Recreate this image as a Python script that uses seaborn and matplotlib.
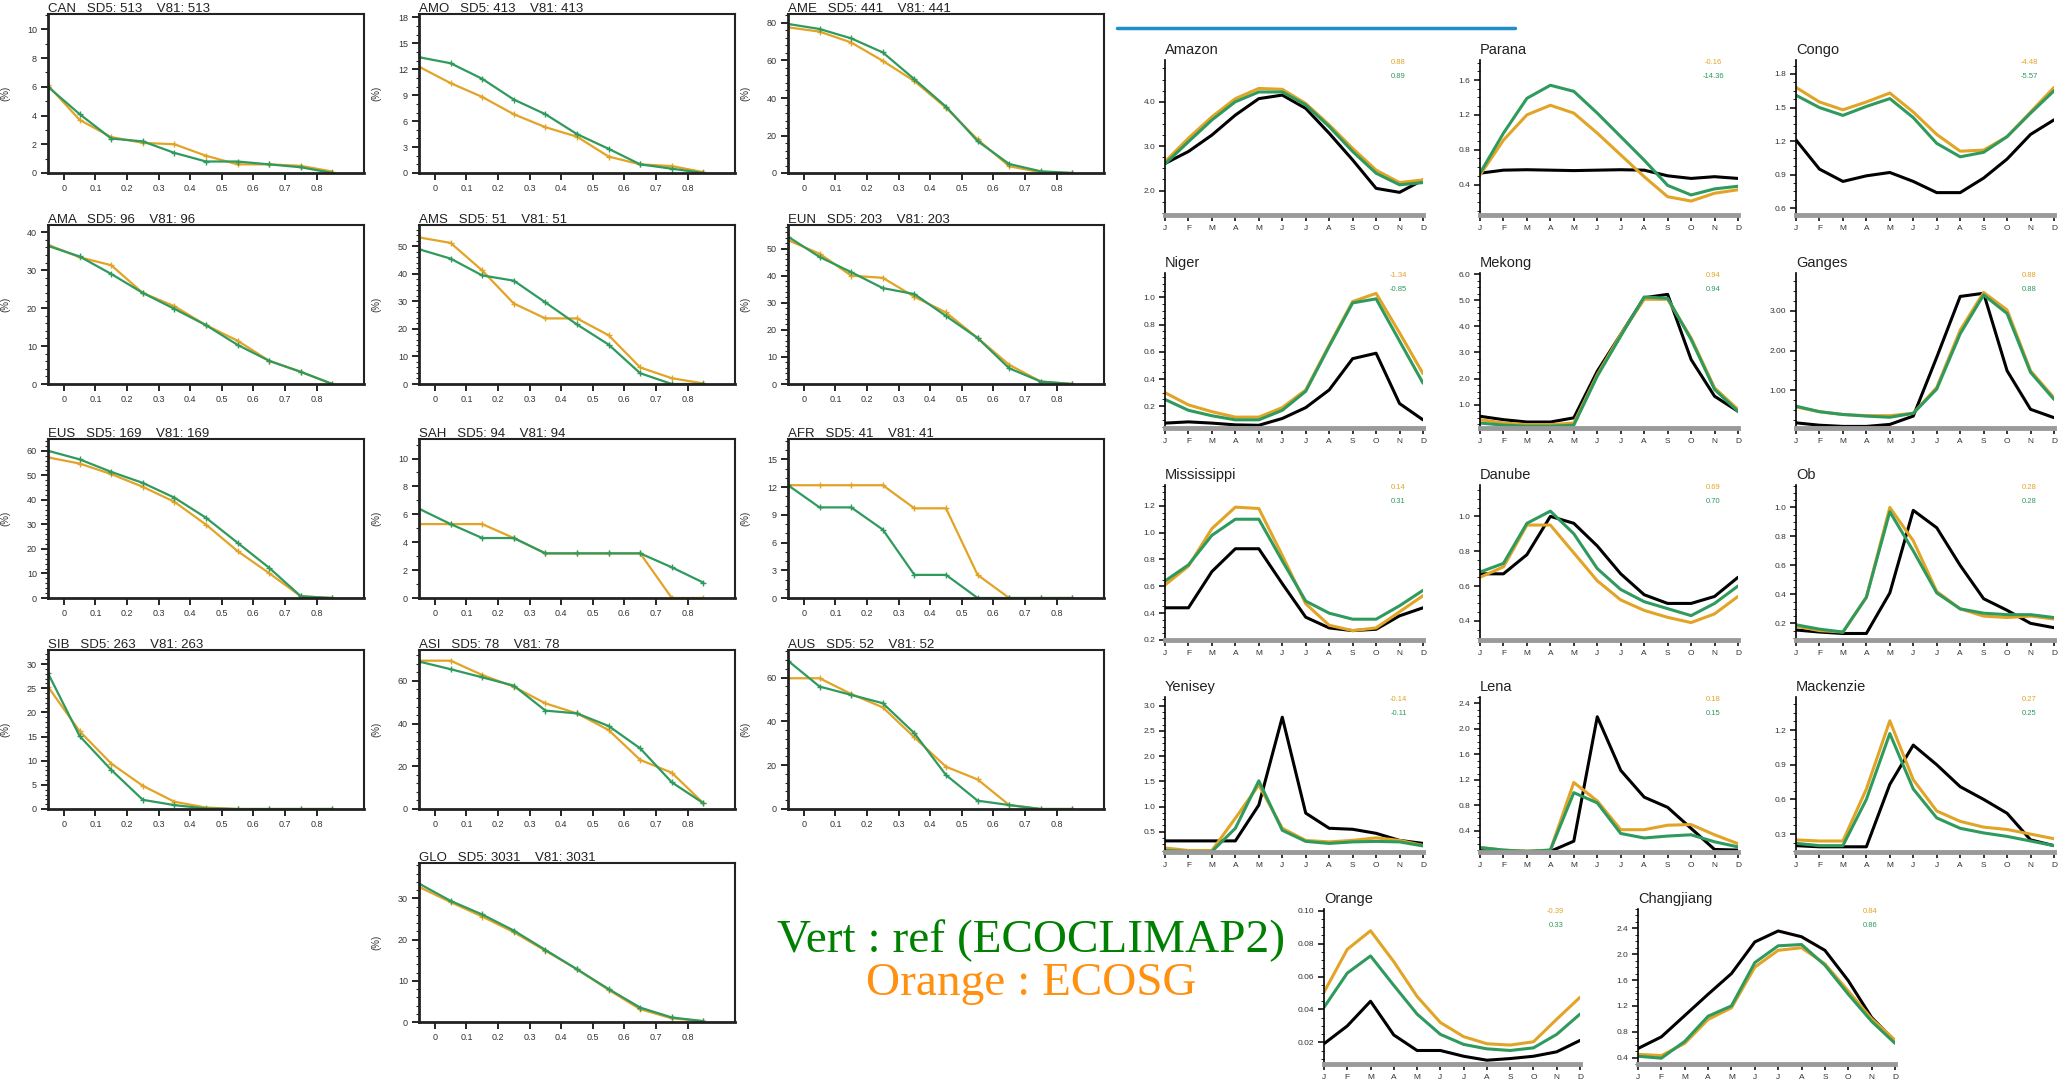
import matplotlib
matplotlib.use("Agg")
import matplotlib.pyplot as plt
import seaborn as sns
from matplotlib.ticker import AutoMinorLocator, FormatStrFormatter, FixedLocator
from matplotlib.lines import Line2D

# ---------------- DATA : left group (distribution per class) ----------------
BINS = [-0.05, 0.05, 0.15, 0.25, 0.35, 0.45, 0.55, 0.65, 0.75, 0.85]
BIN_TICKS = [0, 0.1, 0.2, 0.3, 0.4, 0.5, 0.6, 0.7, 0.8]
BIN_LABELS = ["0", "0.1", "0.2", "0.3", "0.4", "0.5", "0.6", "0.7", "0.8"]

REGIONS = ["CAN", "AMO", "AME", "AMA", "AMS", "EUN", "EUS", "SAH", "AFR",
           "SIB", "ASI", "AUS", "GLO"]
COUNTS = [513, 413, 441, 96, 51, 203, 169, 94, 41, 263, 78, 52, 3031]

CAN_REF = [6.0, 4.1, 2.4, 2.2, 1.4, 0.8, 0.8, 0.6, 0.4, 0.0]
CAN_SG = [6.1, 3.7, 2.5, 2.1, 2.0, 1.2, 0.6, 0.6, 0.5, 0.1]
AMO_REF = [13.4, 12.7, 10.9, 8.5, 6.8, 4.5, 2.8, 1.0, 0.5, 0.0]
AMO_SG = [12.3, 10.4, 8.8, 6.8, 5.3, 4.2, 1.9, 1.0, 0.8, 0.1]
AME_REF = [79.5, 76.8, 71.8, 64.3, 50.0, 35.4, 17.0, 4.8, 0.9, 0.0]
AME_SG = [77.7, 75.4, 69.6, 59.8, 49.0, 34.8, 17.9, 3.6, 0.4, 0.0]
AMA_REF = [36.4, 33.6, 29.0, 24.0, 19.8, 15.5, 10.3, 6.1, 3.2, 0.0]
AMA_SG = [36.7, 33.4, 31.3, 24.0, 20.5, 15.5, 11.4, 6.1, 3.2, 0.0]
AMS_REF = [48.9, 45.5, 39.4, 37.5, 29.6, 21.6, 14.3, 3.9, 0.0, 0.0]
AMS_SG = [53.2, 51.2, 41.2, 29.2, 23.8, 23.8, 17.7, 6.0, 2.1, 0.2]
EUN_REF = [54.4, 46.9, 41.3, 35.4, 33.2, 25.1, 17.0, 5.8, 0.9, 0.0]
EUN_SG = [53.1, 48.1, 40.0, 39.2, 32.2, 26.4, 17.0, 7.1, 0.9, 0.0]
EUS_REF = [60.0, 56.5, 51.4, 46.9, 40.9, 32.7, 22.5, 12.3, 0.7, 0.0]
EUS_SG = [57.3, 54.8, 50.5, 45.3, 39.2, 29.9, 19.1, 10.1, 0.7, 0.0]
SAH_REF = [6.4, 5.3, 4.3, 4.3, 3.2, 3.2, 3.2, 3.2, 2.2, 1.1]
SAH_SG = [5.3, 5.3, 5.3, 4.3, 3.2, 3.2, 3.2, 3.2, 0.0, 0.0]
AFR_REF = [12.2, 9.8, 9.8, 7.4, 2.5, 2.5, 0.0, 0.0, 0.0, 0.0]
AFR_SG = [12.2, 12.2, 12.2, 12.2, 9.7, 9.7, 2.5, 0.0, 0.0, 0.0]
SIB_REF = [28.1, 15.1, 8.1, 1.9, 0.8, 0.1, 0.0, 0.0, 0.0, 0.0]
SIB_SG = [25.3, 16.1, 9.4, 4.8, 1.5, 0.3, 0.0, 0.0, 0.0, 0.0]
ASI_REF = [69.1, 65.5, 61.7, 57.8, 46.1, 44.8, 38.9, 28.4, 12.5, 2.7]
ASI_SG = [69.5, 69.5, 62.8, 57.3, 49.5, 44.8, 37.0, 23.0, 17.0, 2.7]
AUS_REF = [67.7, 55.9, 52.1, 48.3, 34.6, 15.5, 3.8, 1.8, 0.0, 0.0]
AUS_SG = [59.7, 59.7, 52.5, 46.4, 32.7, 19.3, 13.5, 1.8, 0.0, 0.0]
GLO_REF = [33.6, 29.4, 26.1, 22.2, 17.5, 12.8, 8.0, 3.5, 1.1, 0.2]
GLO_SG = [32.8, 29.1, 25.6, 21.8, 17.3, 12.8, 7.8, 3.1, 0.9, 0.2]

# ---------------- DATA : right group (river discharge seasonal cycle) -------
MONTHS = ["J", "F", "M", "A", "M", "J", "J", "A", "S", "O", "N", "D"]
RIVERS = ["Amazon", "Parana", "Congo", "Niger", "Mekong", "Ganges",
          "Mississippi", "Danube", "Ob", "Yenisey", "Lena", "Mackenzie",
          "Orange", "Changjiang"]
SCORE_SG = ["0.88", "-0.16", "-4.48", "-1.34", "0.94", "0.88", "0.14",
            "0.69", "0.28", "-0.14", "0.18", "0.27", "-0.39", "0.84"]
SCORE_REF = ["0.89", "-14.36", "-5.57", "-0.85", "0.94", "0.88", "0.31",
             "0.70", "0.28", "-0.11", "0.15", "0.25", "0.33", "0.86"]

AMAZON_OBS = [2.61, 2.88, 3.25, 3.70, 4.07, 4.15, 3.85, 3.29, 2.69, 2.05, 1.96, 2.24]
AMAZON_SG = [2.65, 3.18, 3.66, 4.07, 4.30, 4.28, 3.96, 3.48, 2.95, 2.46, 2.18, 2.24]
AMAZON_REF = [2.60, 3.10, 3.59, 4.00, 4.22, 4.22, 3.93, 3.44, 2.88, 2.39, 2.13, 2.18]
PARANA_OBS = [0.53, 0.565, 0.57, 0.565, 0.56, 0.565, 0.57, 0.565, 0.50, 0.47, 0.49, 0.47]
PARANA_SG = [0.51, 0.91, 1.20, 1.31, 1.22, 0.99, 0.74, 0.49, 0.26, 0.21, 0.30, 0.34]
PARANA_REF = [0.53, 0.99, 1.39, 1.54, 1.47, 1.22, 0.95, 0.68, 0.39, 0.28, 0.35, 0.38]
CONGO_OBS = [1.21, 0.95, 0.84, 0.89, 0.92, 0.84, 0.74, 0.74, 0.87, 1.04, 1.26, 1.39]
CONGO_SG = [1.68, 1.55, 1.48, 1.55, 1.63, 1.46, 1.26, 1.11, 1.12, 1.24, 1.46, 1.68]
CONGO_REF = [1.61, 1.50, 1.43, 1.51, 1.58, 1.41, 1.18, 1.06, 1.10, 1.24, 1.45, 1.65]
NIGER_OBS = [0.076, 0.085, 0.076, 0.063, 0.06, 0.11, 0.19, 0.32, 0.55, 0.59, 0.22, 0.10]
NIGER_SG = [0.30, 0.21, 0.16, 0.12, 0.12, 0.19, 0.32, 0.65, 0.97, 1.03, 0.74, 0.44]
NIGER_REF = [0.25, 0.17, 0.13, 0.10, 0.10, 0.17, 0.31, 0.64, 0.96, 0.99, 0.68, 0.37]
MEKONG_OBS = [0.55, 0.42, 0.33, 0.33, 0.49, 2.28, 3.69, 5.10, 5.23, 2.73, 1.32, 0.74]
MEKONG_SG = [0.42, 0.29, 0.23, 0.23, 0.29, 2.15, 3.69, 5.04, 5.04, 3.56, 1.64, 0.81]
MEKONG_REF = [0.29, 0.21, 0.17, 0.17, 0.21, 2.09, 3.63, 5.13, 5.08, 3.50, 1.58, 0.74]
GANGES_OBS = [0.18, 0.12, 0.09, 0.09, 0.14, 0.35, 1.83, 3.36, 3.44, 1.49, 0.52, 0.31]
GANGES_SG = [0.58, 0.46, 0.39, 0.36, 0.36, 0.42, 1.07, 2.51, 3.46, 3.02, 1.49, 0.81]
GANGES_REF = [0.60, 0.46, 0.39, 0.35, 0.32, 0.42, 1.03, 2.42, 3.40, 2.93, 1.45, 0.77]
MISSISSIPPI_OBS = [0.44, 0.44, 0.71, 0.88, 0.88, 0.62, 0.37, 0.29, 0.27, 0.28, 0.38, 0.44]
MISSISSIPPI_SG = [0.61, 0.75, 1.03, 1.19, 1.18, 0.83, 0.47, 0.31, 0.27, 0.29, 0.41, 0.53]
MISSISSIPPI_REF = [0.64, 0.76, 0.98, 1.10, 1.10, 0.79, 0.49, 0.40, 0.355, 0.355, 0.455, 0.57]
DANUBE_OBS = [0.67, 0.67, 0.78, 1.00, 0.96, 0.83, 0.67, 0.55, 0.50, 0.50, 0.54, 0.65]
DANUBE_SG = [0.65, 0.71, 0.95, 0.95, 0.79, 0.63, 0.52, 0.46, 0.42, 0.39, 0.44, 0.54]
DANUBE_REF = [0.68, 0.73, 0.96, 1.03, 0.90, 0.70, 0.58, 0.51, 0.47, 0.43, 0.50, 0.60]
OB_OBS = [0.154, 0.14, 0.13, 0.13, 0.41, 0.98, 0.86, 0.60, 0.37, 0.29, 0.20, 0.17]
OB_SG = [0.18, 0.15, 0.14, 0.38, 1.00, 0.77, 0.42, 0.30, 0.25, 0.24, 0.25, 0.23]
OB_REF = [0.19, 0.16, 0.14, 0.38, 0.97, 0.70, 0.41, 0.30, 0.27, 0.26, 0.26, 0.24]
YENISEY_OBS = [0.32, 0.32, 0.32, 0.32, 1.03, 2.77, 0.87, 0.57, 0.55, 0.47, 0.33, 0.27]
YENISEY_SG = [0.18, 0.13, 0.13, 0.77, 1.43, 0.57, 0.33, 0.30, 0.33, 0.38, 0.33, 0.23]
YENISEY_REF = [0.13, 0.11, 0.11, 0.57, 1.51, 0.53, 0.31, 0.27, 0.30, 0.31, 0.30, 0.22]
LENA_OBS = [0.10, 0.08, 0.08, 0.08, 0.24, 2.19, 1.35, 0.93, 0.77, 0.44, 0.11, 0.10]
LENA_SG = [0.14, 0.10, 0.08, 0.10, 1.16, 0.87, 0.42, 0.42, 0.49, 0.50, 0.34, 0.20]
LENA_REF = [0.14, 0.10, 0.08, 0.10, 1.00, 0.84, 0.36, 0.29, 0.32, 0.34, 0.23, 0.15]
MACKENZIE_OBS = [0.20, 0.19, 0.19, 0.19, 0.73, 1.07, 0.90, 0.71, 0.60, 0.48, 0.25, 0.20]
MACKENZIE_SG = [0.25, 0.24, 0.24, 0.69, 1.28, 0.77, 0.50, 0.41, 0.36, 0.34, 0.30, 0.26]
MACKENZIE_REF = [0.22, 0.20, 0.20, 0.60, 1.17, 0.69, 0.44, 0.35, 0.31, 0.28, 0.24, 0.20]
ORANGE_OBS = [0.0192, 0.030, 0.045, 0.0245, 0.0151, 0.0151, 0.0116, 0.0092, 0.0102, 0.0116, 0.0143, 0.0212]
ORANGE_SG = [0.0505, 0.0765, 0.0878, 0.0690, 0.0479, 0.0321, 0.0235, 0.0192, 0.0184, 0.0204, 0.0341, 0.0474]
ORANGE_REF = [0.0413, 0.0621, 0.0725, 0.0546, 0.0372, 0.0249, 0.0188, 0.0161, 0.0151, 0.0167, 0.0249, 0.0372]
CHANGJIANG_OBS = [0.54, 0.72, 1.05, 1.38, 1.70, 2.19, 2.36, 2.27, 2.06, 1.59, 1.02, 0.65]
CHANGJIANG_SG = [0.45, 0.43, 0.62, 0.99, 1.17, 1.80, 2.06, 2.10, 1.85, 1.43, 1.00, 0.67]
CHANGJIANG_REF = [0.42, 0.39, 0.65, 1.04, 1.20, 1.87, 2.13, 2.15, 1.83, 1.38, 0.96, 0.62]

# ---------------- style ----------------
GREEN = "#2f9a5e"
ORANGE = "#e2a426"
sns.set_theme(style="ticks")
plt.rcParams["font.family"] = ["Liberation Sans", "DejaVu Sans"]

W, H = 2065, 1085
fig = plt.figure(figsize=(W / 100, H / 100), dpi=100)
fig.patch.set_facecolor("white")


def rect(left, top, width, height):
    return [left / W, 1 - (top + height) / H, width / W, height / H]


# ---------------- left group ----------------
left_series = [(CAN_REF, CAN_SG), (AMO_REF, AMO_SG), (AME_REF, AME_SG),
               (AMA_REF, AMA_SG), (AMS_REF, AMS_SG), (EUN_REF, EUN_SG),
               (EUS_REF, EUS_SG), (SAH_REF, SAH_SG), (AFR_REF, AFR_SG),
               (SIB_REF, SIB_SG), (ASI_REF, ASI_SG), (AUS_REF, AUS_SG),
               (GLO_REF, GLO_SG)]
left_ylim = [11.07, 18.4, 84.8, 41.9, 57.7, 58.7, 64.8, 11.4, 17.2, 32.9, 74.5, 72.6, 38.6]
left_step = [2, 3, 20, 10, 10, 10, 10, 2, 3, 5, 20, 20, 10]
col_left = [48, 419, 788]
row_top = [14, 225, 439, 650, 863]
positions = [(r, c) for r in range(4) for c in range(3)] + [(4, 1)]

for i, (name, n) in enumerate(zip(REGIONS, COUNTS)):
    r, c = positions[i]
    ax = fig.add_axes(rect(col_left[c], row_top[r], 316, 159))
    ref, sg = left_series[i]
    sns.lineplot(x=BINS, y=sg, ax=ax, color=ORANGE, lw=1.6, marker="+",
                 markersize=4, markeredgewidth=1.0, markeredgecolor=ORANGE)
    sns.lineplot(x=BINS, y=ref, ax=ax, color=GREEN, lw=1.6, marker="+",
                 markersize=4, markeredgewidth=1.0, markeredgecolor=GREEN)
    ax.set_xlim(-0.05, 0.95)
    ax.set_ylim(0, left_ylim[i])
    ax.set_xticks(BIN_TICKS)
    ax.set_xticklabels(BIN_LABELS)
    step = left_step[i]
    yt = [k * step for k in range(int(left_ylim[i] // step) + 1)]
    ax.yaxis.set_major_locator(FixedLocator(yt))
    ax.yaxis.set_minor_locator(AutoMinorLocator(5 if step in (10, 20, 5) else step if step > 1 else 2))
    ax.tick_params(axis="both", which="major", direction="out", length=5, width=1.2,
                   labelsize=6.5, pad=3, colors="black", labelcolor="#333333")
    ax.tick_params(axis="y", which="minor", direction="out", length=2.5, width=0.8)
    for s in ax.spines.values():
        s.set_color("#222222")
        s.set_linewidth(1.5)
    ax.spines["bottom"].set_linewidth(2.0)
    ax.spines["left"].set_linewidth(2.0)
    ax.set_xlabel("")
    ax.set_ylabel("(%)", fontsize=7, color="#333333")
    ax.yaxis.set_label_coords(-38 / 316, 0.5)
    ax.text(0.0, 0.995, f"{name}   SD5: {n}    V81: {n}", transform=ax.transAxes,
            ha="left", va="bottom", fontsize=9.5, color="#222222")

# ---------------- right group ----------------
river_series = [
    (AMAZON_OBS, AMAZON_SG, AMAZON_REF), (PARANA_OBS, PARANA_SG, PARANA_REF),
    (CONGO_OBS, CONGO_SG, CONGO_REF), (NIGER_OBS, NIGER_SG, NIGER_REF),
    (MEKONG_OBS, MEKONG_SG, MEKONG_REF), (GANGES_OBS, GANGES_SG, GANGES_REF),
    (MISSISSIPPI_OBS, MISSISSIPPI_SG, MISSISSIPPI_REF),
    (DANUBE_OBS, DANUBE_SG, DANUBE_REF), (OB_OBS, OB_SG, OB_REF),
    (YENISEY_OBS, YENISEY_SG, YENISEY_REF), (LENA_OBS, LENA_SG, LENA_REF),
    (MACKENZIE_OBS, MACKENZIE_SG, MACKENZIE_REF),
    (ORANGE_OBS, ORANGE_SG, ORANGE_REF),
    (CHANGJIANG_OBS, CHANGJIANG_SG, CHANGJIANG_REF)]
river_ylim = [(1.45, 4.94), (0.05, 1.83), (0.54, 1.925), (0.04, 1.18), (0.10, 6.05),
              (0.05, 3.95), (0.2, 1.355), (0.29, 1.18), (0.085, 1.155), (0.1, 3.17),
              (0.07, 2.5), (0.145, 1.486), (0.0069, 0.101), (0.30, 2.70)]
river_ticks = [[2, 3, 4], [0.4, 0.8, 1.2, 1.6], [0.6, 0.9, 1.2, 1.5, 1.8],
               [0.2, 0.4, 0.6, 0.8, 1.0], [1, 2, 3, 4, 5, 6], [1, 2, 3],
               [0.2, 0.4, 0.6, 0.8, 1.0, 1.2], [0.4, 0.6, 0.8, 1.0],
               [0.2, 0.4, 0.6, 0.8, 1.0], [0.5, 1.0, 1.5, 2.0, 2.5, 3.0],
               [0.4, 0.8, 1.2, 1.6, 2.0, 2.4], [0.3, 0.6, 0.9, 1.2],
               [0.02, 0.04, 0.06, 0.08, 0.10], [0.4, 0.8, 1.2, 1.6, 2.0, 2.4]]
river_fmt = ["%.1f"] * 5 + ["%.2f"] + ["%.1f"] * 6 + ["%.2f", "%.1f"]
rcol = [1165, 1480, 1796]
rrow = [60, 273, 485, 697]
rpos = [(rcol[c], rrow[r], 258) for r in range(4) for c in range(3)] + \
       [(1324, 909, 256), (1638, 909, 257)]
mx = list(range(12))

for i, river in enumerate(RIVERS):
    lx, ty, wd = rpos[i]
    ax = fig.add_axes(rect(lx, ty, wd, 155))
    obs, sg, ref = river_series[i]
    sns.lineplot(x=mx, y=obs, ax=ax, color="black", lw=2.2)
    sns.lineplot(x=mx, y=sg, ax=ax, color=ORANGE, lw=2.2)
    sns.lineplot(x=mx, y=ref, ax=ax, color=GREEN, lw=2.2)
    ax.set_xlim(0, 11)
    ax.set_ylim(*river_ylim[i])
    ax.set_xticks(mx)
    ax.set_xticklabels(MONTHS)
    ax.yaxis.set_major_locator(FixedLocator(river_ticks[i]))
    ax.yaxis.set_major_formatter(FormatStrFormatter(river_fmt[i]))
    ax.yaxis.set_minor_locator(AutoMinorLocator(4))
    ax.tick_params(axis="both", which="major", direction="out", length=4, width=1.1,
                   labelsize=6, pad=3, colors="black", labelcolor="#333333")
    ax.tick_params(axis="y", which="minor", direction="out", length=2, width=0.7)
    ax.spines["top"].set_visible(False)
    ax.spines["right"].set_visible(False)
    ax.spines["left"].set_color("black")
    ax.spines["left"].set_linewidth(1.2)
    ax.spines["bottom"].set_color("#9a9a9a")
    ax.spines["bottom"].set_linewidth(3.5)
    ax.set_xlabel("")
    ax.set_ylabel("")
    ax.text(0.0, 1.02, river, transform=ax.transAxes, ha="left", va="bottom",
            fontsize=10.5, color="#222222")
    ax.text(0.905, 0.985, SCORE_SG[i], transform=ax.transAxes, ha="center",
            va="center", fontsize=5.5, color=ORANGE)
    ax.text(0.905, 0.895, SCORE_REF[i], transform=ax.transAxes, ha="center",
            va="center", fontsize=5.5, color=GREEN)

# blue line at top
fig.add_artist(Line2D([1117 / W, 1515 / W], [1 - 28 / H, 1 - 28 / H],
                      color="#1f8fcc", lw=2.5, transform=fig.transFigure))

# legend text
fig.text(1031 / W, 1 - 941 / H, "Vert : ref (ECOCLIMAP2)", color="#008000",
         fontsize=34, family=["Liberation Serif", "DejaVu Serif"], ha="center", va="center")
fig.text(1031 / W, 1 - 984 / H, "Orange : ECOSG", color="#ff9010",
         fontsize=34, family=["Liberation Serif", "DejaVu Serif"], ha="center", va="center")

fig.savefig("out.png", dpi=100, facecolor="white")
